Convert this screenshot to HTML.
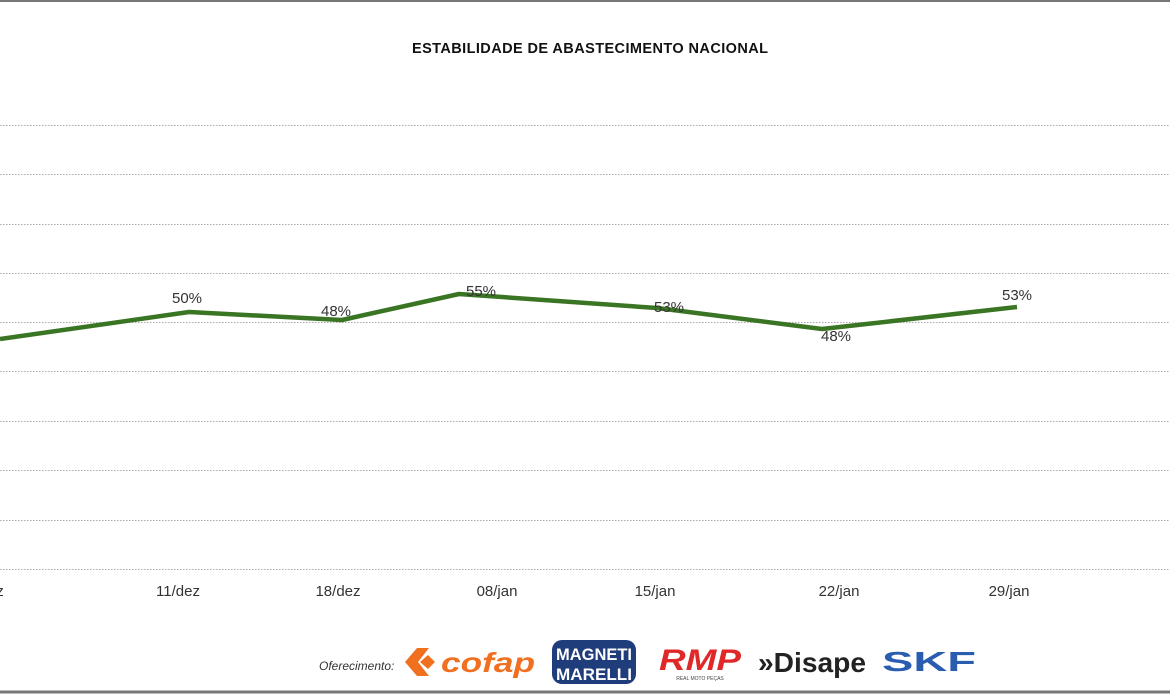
<!DOCTYPE html>
<html><head><meta charset="utf-8"><style>
body{margin:0;width:1170px;height:694px;background:#fff;overflow:hidden;font-family:"Liberation Sans",sans-serif}
</style></head><body>
<svg width="1170" height="694" xmlns="http://www.w3.org/2000/svg">
<line x1="0" y1="1" x2="1170" y2="1" stroke="#777" stroke-width="2"/>
<line x1="0" y1="692" x2="1170" y2="692" stroke="#777" stroke-width="3"/>
<text x="590" y="53" text-anchor="middle" font-size="14.5" font-weight="bold" fill="#111" textLength="356">ESTABILIDADE DE ABASTECIMENTO NACIONAL</text>
<g stroke="#aaa" stroke-width="1" stroke-dasharray="1.5,1.5">
<line x1="0" x2="1170" y1="125.5" y2="125.5"/><line x1="0" x2="1170" y1="174.5" y2="174.5"/>
<line x1="0" x2="1170" y1="224.5" y2="224.5"/><line x1="0" x2="1170" y1="273.5" y2="273.5"/>
<line x1="0" x2="1170" y1="322.5" y2="322.5"/><line x1="0" x2="1170" y1="371.5" y2="371.5"/>
<line x1="0" x2="1170" y1="421.5" y2="421.5"/><line x1="0" x2="1170" y1="470.5" y2="470.5"/>
<line x1="0" x2="1170" y1="520.5" y2="520.5"/><line x1="0" x2="1170" y1="569.5" y2="569.5"/>
</g>
<polyline points="0,339 189,312 342,320 459,294 657,308 822,329 1017,307" fill="none" stroke="#3a7524" stroke-width="4.5" stroke-linejoin="round"/>
<g font-size="15" fill="#333" text-anchor="middle">
<text x="187" y="303">50%</text><text x="336" y="316">48%</text><text x="481" y="296">55%</text>
<text x="669" y="312">53%</text><text x="836" y="341">48%</text><text x="1017" y="300">53%</text>
<text x="178" y="596">11/dez</text><text x="338" y="596">18/dez</text><text x="497" y="596">08/jan</text>
<text x="655" y="596">15/jan</text><text x="839" y="596">22/jan</text><text x="1009" y="596">29/jan</text>
<text x="0" y="596">z</text>
</g>
<text x="319" y="670" font-size="12" font-style="italic" fill="#333">Oferecimento:</text>
<polygon points="405,662 417,648 429,648 418,662 429,676 417,676" fill="#f07020"/>
<polygon points="420,662 428,655 435,662 428,669" fill="#f07020"/>
<text x="441" y="672" font-size="28" font-weight="bold" font-style="italic" fill="#f07020" textLength="94" lengthAdjust="spacingAndGlyphs">cofap</text>
<rect x="552" y="640" width="84" height="44" rx="10" fill="#1f3d7a"/>
<text x="594" y="660" font-size="17" font-weight="bold" fill="#fff" text-anchor="middle" textLength="76" lengthAdjust="spacingAndGlyphs">MAGNETI</text>
<text x="594" y="680" font-size="17" font-weight="bold" fill="#fff" text-anchor="middle" textLength="76" lengthAdjust="spacingAndGlyphs">MARELLI</text>
<text x="659" y="670" font-size="30" font-weight="bold" font-style="italic" fill="#e02828" textLength="82" lengthAdjust="spacingAndGlyphs">RMP</text>
<text x="700" y="680" font-size="5" fill="#444" text-anchor="middle">REAL MOTO PEÇAS</text>
<text x="758" y="672" font-size="28" font-weight="bold" fill="#222" textLength="108" lengthAdjust="spacingAndGlyphs">»Disape</text>
<text x="882" y="671" font-size="28" font-weight="bold" fill="#2a5db0" textLength="94" lengthAdjust="spacingAndGlyphs">SKF</text>
</svg>
</body></html>
